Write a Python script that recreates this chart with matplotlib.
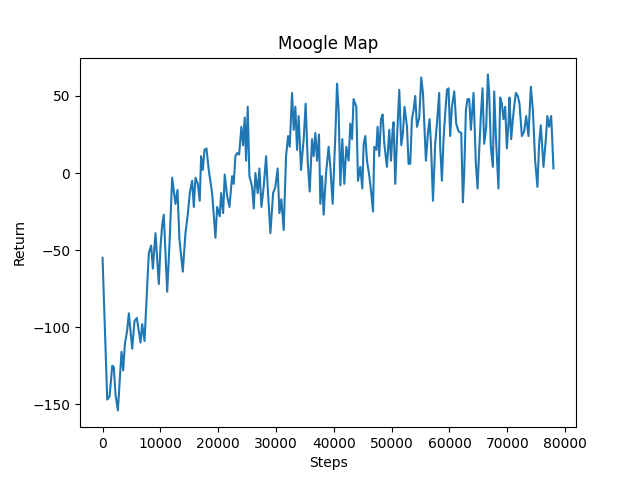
import numpy as np
import matplotlib
matplotlib.use("Agg")
import matplotlib.pyplot as plt

# training steps and episode return
steps = [
    0, 810, 1210, 1680, 1950, 2250, 2650, 2940, 3280, 3570, 3860, 4260, 4550,
    5130, 5530, 5930, 6570, 6860, 7260, 7550, 8000, 8410, 8700, 9160, 9730,
    10020, 10310, 10590, 11180, 11580, 12040, 12610, 12960, 13300, 13880,
    14340, 14740, 15090, 15500, 15780, 16070, 16470, 16810, 17050, 17340,
    17630, 17970, 18370, 18950, 19530, 19820, 20270, 20510, 20860, 21130,
    21550, 21950, 22410, 22690, 22980, 23280, 23620, 24020, 24310, 24590,
    24830, 25110, 25400, 25870, 26150, 26440, 26840, 27130, 27480, 27870,
    28290, 28560, 29030,
    29500, 29890, 30290, 30590, 30930, 31330, 31740, 32090, 32370, 32780,
    33060, 33350, 33640, 33920, 34330, 34790, 35130, 35480, 35830, 36230,
    36510, 36810, 37100, 37440, 37670, 37960, 38240, 38660, 39100, 39400,
    39800, 40260, 40560, 40830, 41130, 41470, 41820, 42160, 42560, 42850,
    43150, 43420, 43890, 44180, 44580, 44930,
    45160, 45450, 45740, 46140, 46480, 46780, 47000, 47350, 47570, 47860,
    48160, 48440, 48730, 49190, 49590, 49890, 50170, 50340, 50630, 50920,
    51320, 51670, 51960, 52230, 52660, 52930, 53220, 53510, 53800, 54080,
    54380, 54780, 55120, 55420, 55700, 55930, 56280, 56560, 56800, 57150,
    57540, 57830, 58230, 58400, 58700, 58980, 59270, 59570, 59840, 60130,
    60430, 60830, 61170, 61570, 62040, 62330, 62550, 62850, 63130, 63420,
    63710, 64170, 64570, 64860, 65150, 65430, 65720, 66010, 66360, 66650,
    66870, 67160, 67510, 67740, 68030, 68480, 68770, 69070, 69340, 69640,
    69930, 70210, 70380, 70680, 70970, 71190, 71490, 71830, 72110, 72530,
    72920, 73270, 73670, 74080, 74430, 74820, 75220, 75510, 75800, 76260,
    76670, 76940, 77240, 77590, 77710, 77990,
]
returns = [
    -55, -147, -145, -125, -126, -144, -154, -137, -116, -128, -111, -102, -91,
    -114, -96, -94, -110, -98, -109, -87, -52, -47, -62, -39, -72,
    -48, -34, -27, -77, -46, -3, -20, -11, -43, -64,
    -39, -27, -13, -5, -22, -3, -7, -18, 11, 2,
    15, 16, 2, -13, -42, -22, -28, -13, -26, -1,
    -15, -22, -2, -7, 11, 13, 12, 30, 18, 36,
    8, 43, -2, -9, -23, 0, -13, 3, -22, -9,
    11, -9, -39,
    -13, -9, 3, -26, -17, -37, 11, 24, 17, 52,
    28, 43, 15, 37, 2, 22, 45, 8, -12, 22,
    11, 26, 8, 25, -20, -2, -27, 0, 17, 4,
    -20, 24, 58, 41, -8, 22, -7, 17, 8, 32,
    22, 48, 43, -5, 4, -10,
    19, 24, 8, -2, -13, -25, 17, 15, 30, 11,
    35, 38, 19, 4, 28, 8, 28, 33, -7, 22,
    54, 18, 26, 43, 30, 6, 6, 35, 41, 50,
    30, 36, 62, 52, 28, 8, 26, 35, 19, -18,
    19, 32, 52, 17, -5, 22, 39, 54, 55, 24,
    43, 53, 32, 27, 26, -19, 0, 41, 48, 48,
    28, 52, 6, -10, 15, 37, 55, 19, 30, 64,
    52, 17, 4, 53, 24, -10, 49, 45, 35, 43,
    16, 32, 49, 22, 35, 43, 52, 50, 45, 24,
    27, 37, 24, 56, 41, 8, -9, 19, 31, 4,
    22, 37, 30, 37, 28, 3,
]

plt.figure(figsize=(6.4, 4.8), dpi=100)
plt.plot(steps, returns)
plt.title("Moogle Map")
plt.xlabel("Steps")
plt.ylabel("Return")
plt.savefig("out.png")
